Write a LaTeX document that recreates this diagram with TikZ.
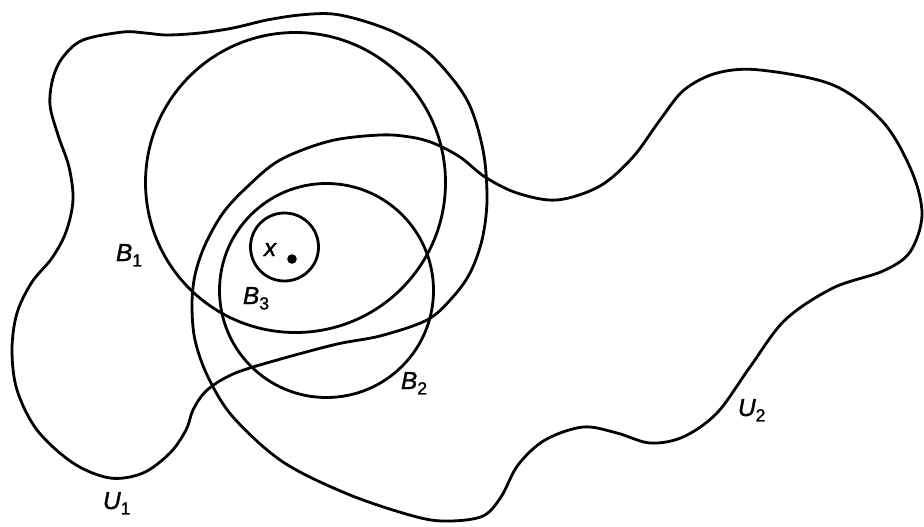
\documentclass[tikz,border=0pt]{standalone}
\usepackage{fontspec}
\newfontfamily\labfont[FakeBold=1.3]{Liberation Sans}
\newcommand\setlab[2]{{\labfont\fontsize{24.5}{28}\selectfont\itshape #1\raisebox{-0.42ex}{\fontsize{17.5}{19}\selectfont\upshape #2}}}
\begin{document}
\begin{tikzpicture}[x=1pt,y=-1pt,
  curve/.style={line width=2.8pt, line join=round},
  lab/.style={anchor=base west, inner sep=0pt, outer sep=0pt}]
\useasboundingbox (0,0) rectangle (924,527);
% U1
\draw[curve] plot[smooth cycle, tension=0.55] coordinates {
 (123,32) (145,33) (167,35) (200,33) (233,28) (267,20) (300,15) (333,14)
 (367,22) (400,35) (433,57) (467,100) (483,150) (487,200) (482,240)
 (470,273) (452,298) (427,320) (380,336) (333,345) (253,367) (225,378)
 (205,392) (193,410) (186,430) (170,453) (143,473) (110,478) (73,463)
 (37,430) (17,390) (12,350) (17,313) (32,282) (52,258) (66,232) (73,200)
 (69,167) (58,135) (50,105) (53,78) (63,57) (83,40)};
% U2
\draw[curve] plot[smooth cycle, tension=0.55] coordinates {
 (380,135) (330,141) (280,160) (247,187) (223,213) (205,245) (195,275)
 (192,305) (195,340) (208,377) (233,417) (283,462) (350,495) (417,517)
 (450,521) (483,516) (501,497) (518,465) (545,440) (583,427) (617,433)
 (650,443) (683,437) (717,413) (750,367) (785,320) (833,288) (883,271)
 (910,252) (922,215) (912,172) (883,122) (833,85) (760,70) (717,73)
 (684,90) (660,120) (633,157) (600,186) (557,200) (517,193) (485,177)
 (460,157) (433,143) (410,137)};
% balls
\draw[curve] (295.5,182.5) circle[radius=150pt];
\draw[curve] (326.5,290.5) circle[radius=107pt];
\draw[curve] (284.5,247) circle[radius=34pt];
\fill (292,259) circle[radius=4.8pt];
% labels
\node[lab] (lB1) at (116,261) {\setlab{B}{1}};
\node[lab] (lB3) at (243,304) {\setlab{B}{3}};
\node[lab] (lB2) at (401,389) {\setlab{B}{2}};
\node[lab] (lU1) at (103,509) {\setlab{U}{1}};
\node[lab] (lU2) at (738,416) {\setlab{U}{2}};
\node[lab] (lx) at (264,256) {{\labfont\fontsize{24.5}{28}\selectfont\itshape x}};
\end{tikzpicture}
\end{document}
